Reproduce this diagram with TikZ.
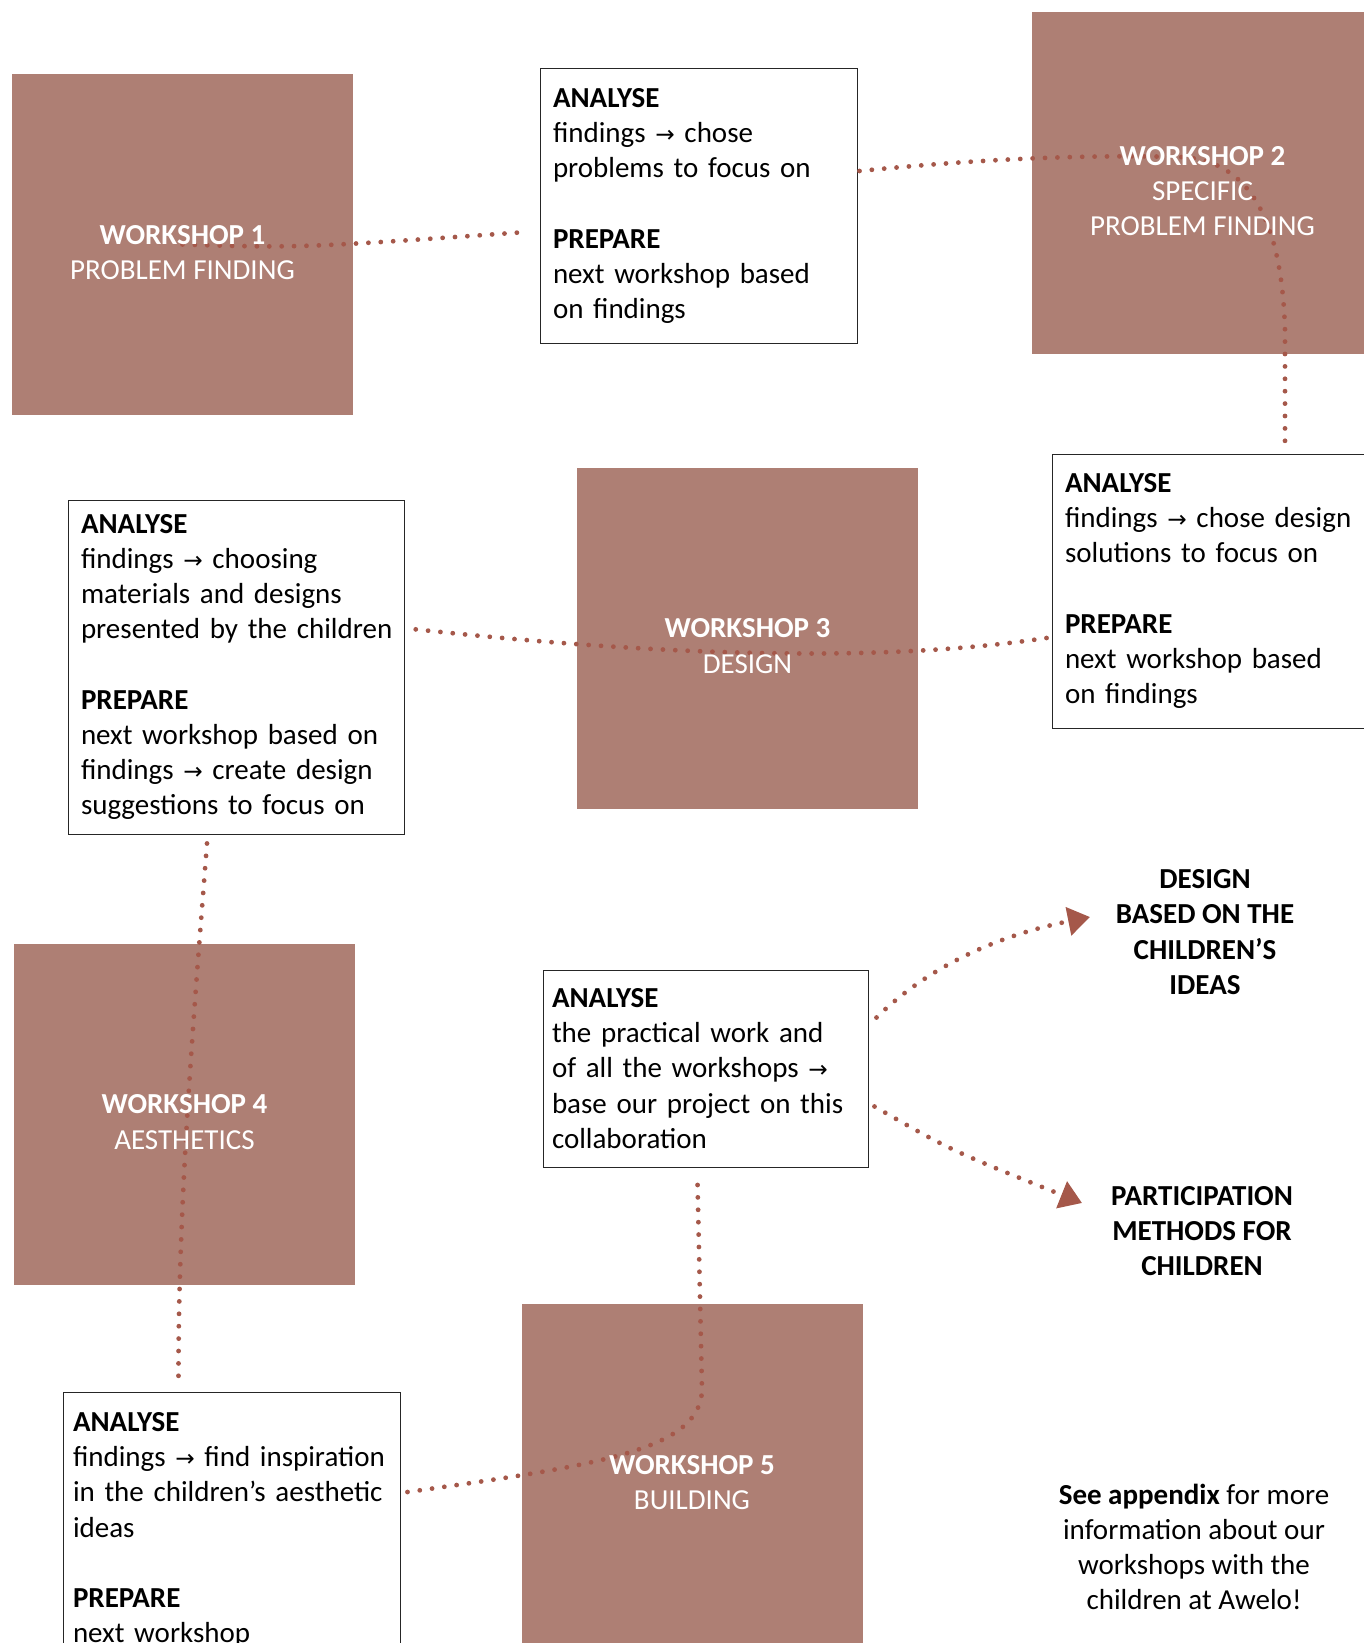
\documentclass[tikz,border=0pt]{standalone}
\usepackage{fontspec}
\setmainfont{Carlito}
\newfontfamily\arrowfont{DejaVu Sans}[Scale=0.8]
\usetikzlibrary{arrows.meta}
\usetikzlibrary{calc}
\usetikzlibrary{positioning}

\definecolor{rose}{HTML}{AE7F74}
\definecolor{rust}{HTML}{A5584A}
\newcommand{\thento}{{\arrowfont →}}
\newcommand{\bodyfont}{\fontsize{14.5pt}{17.6pt}\selectfont}

\tikzset {
  % workshop square, filled only
  workshop/.style = {
    rectangle,
    fill = rose,
    minimum width = 170.5pt,
    minimum height = 170.5pt,
    inner sep = 0
  },
  % white title written over the square
  ws text/.style = {
    text = white,
    align = center,
    yshift = -4pt
  },
  % analyse / prepare note
  note/.style = {
    rectangle,
    draw = black!85,
    line width = 0.5pt,
    align = left,
    inner xsep = 6.5pt,
    inner ysep = 0pt
  },
  % result of the whole process
  outcome/.style = {
    align = center,
    font = \bodyfont\bfseries
  }
}
\tikzset {
  % dotted trail between the steps
  trail/.style = {
    draw = rust,
    line width = 2.4pt,
    line cap = round,
    dash pattern = on 0pt off 6.2pt
  },
  % trail ending in a filled head
  trail arrow/.style = {
    trail,
    -{Triangle[length = 11pt, width = 14pt, fill = rust]}
  }
}

\begin{document}
\begin{tikzpicture}[x = 0.5pt, y = -0.5pt, font = \bodyfont]
    \useasboundingbox (0,0) rectangle (1364,1643);
    \clip (0,0) rectangle (1364,1643);

    \node[workshop] (ws1) at (182.5,244.5) {};
    \node[workshop] (ws2) at (1202.5,183) {};
    \node[workshop] (ws3) at (747.5,638) {};
    \node[workshop] (ws4) at (184.5,1114) {};
    \node[workshop] (ws5) at (692,1474.5) {};

    \node[note, text width = 145.5pt, minimum height = 137pt] (a1) at (698.5,206)
      {\textbf{ANALYSE}\\findings \thento{} chose\\problems to focus on\\[17.6pt]
       \textbf{PREPARE}\\next workshop based\\on findings};
    \node[note, text width = 147pt, minimum height = 137pt] (a2) at (1212,591)
      {\textbf{ANALYSE}\\findings \thento{} chose design\\solutions to focus on\\[17.6pt]
       \textbf{PREPARE}\\next workshop based\\on findings};
    \node[note, text width = 155pt, minimum height = 167pt] (a3) at (236,667)
      {\textbf{ANALYSE}\\findings \thento{} choosing\\materials and designs\\\mbox{presented by the children}\\[17.6pt]
       \textbf{PREPARE}\\next workshop based on\\findings \thento{} create design\\suggestions to focus on};
    \node[note, text width = 158.5pt, inner xsep = 5pt, inner ysep = 10pt, anchor = north] (a4) at (231.5,1392)
      {\textbf{ANALYSE}\\findings \thento{} find inspiration\\in the children’s aesthetic\\ideas\\[17.6pt]
       \textbf{PREPARE}\\next workshop};
    \node[note, text width = 153.5pt, inner xsep = 4.5pt, minimum height = 98.5pt] (a5) at (705.5,1068.5)
      {\textbf{ANALYSE}\\the practical work and\\of all the workshops \thento\\base our project on this\\collaboration};

    \node[outcome] (out1) at (1205,932) {DESIGN\\BASED ON THE\\CHILDREN’S\\IDEAS};
    \node[outcome] (out2) at (1202,1231) {PARTICIPATION\\METHODS FOR\\CHILDREN};
    \node[align = center] (appendix) at (1194,1547)
      {\textbf{See appendix} for more\\information about our\\workshops with the\\children at Awelo!};
    \coordinate (design-tip) at (1090,917);
    \coordinate (participation-tip) at (1082,1203);

    \draw[trail] (ws1.center) .. controls (300,248) .. ($(a1.west)+(-13,26)$);
    \draw[trail] ($(a1.east)+(2,-35)$) .. controls (1000,157) and (1100,155) .. (1180,157)
      .. controls (1255,160) and (1282,230) .. (1285,330) -- ($(a2.north)+(73,-4)$);
    \draw[trail] ($(a2.west)+(-5,47)$) .. controls (900,660) and (700,660) .. ($(a3.east)+(8,-38)$);
    \draw[trail] ($(a3.south)+(-29,9)$) .. controls (195,1000) and (178,1200) .. ($(a4.north)+(-53,-12)$);
    \draw[trail] ($(a4.north east)+(7,100)$) .. controls (600,1465) and (700,1450) .. (702,1390)
      -- ($(a5.south)+(-8,14)$);
    \draw[trail arrow] ($(a5.east)+(8,-51)$) .. controls (930,965) and (1000,935) .. (design-tip);
    \draw[trail arrow] ($(a5.east)+(6,38)$) .. controls (950,1150) .. (participation-tip);

    \node[ws text] (ws1-text) at (ws1) {\textbf{WORKSHOP 1}\\PROBLEM FINDING};
    \node[ws text] (ws2-text) at (ws2) {\textbf{WORKSHOP 2}\\SPECIFIC\\PROBLEM FINDING};
    \node[ws text] (ws3-text) at (ws3) {\textbf{WORKSHOP 3}\\DESIGN};
    \node[ws text] (ws4-text) at (ws4) {\textbf{WORKSHOP 4}\\AESTHETICS};
    \node[ws text] (ws5-text) at (ws5) {\textbf{WORKSHOP 5}\\BUILDING};
  \end{tikzpicture}
\end{document}
